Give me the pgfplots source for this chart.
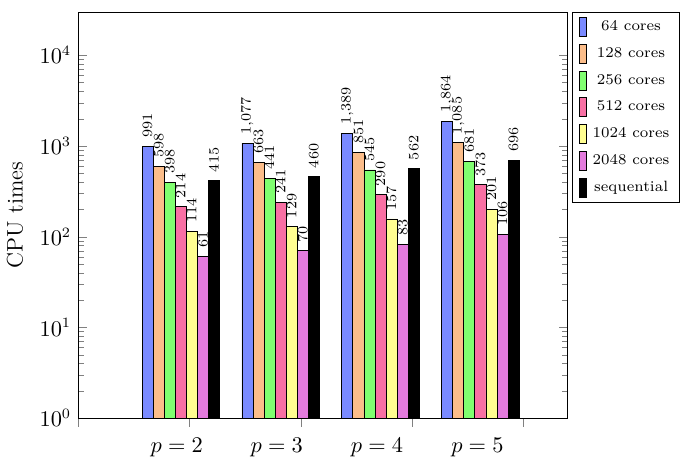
\documentclass[border={0pt 0pt 2.4pt 5.7pt}]{standalone}
\usepackage{pgfplots}
\pgfplotsset{compat=1.18}
\definecolor{c1}{RGB}{122,138,255}
\definecolor{c2}{RGB}{251,189,138}
\definecolor{c3}{RGB}{128,255,112}
\definecolor{c4}{RGB}{248,112,164}
\definecolor{c5}{RGB}{255,254,145}
\definecolor{c6}{RGB}{227,123,221}
\begin{document}
\begin{tikzpicture}
\begin{axis}[
 scale only axis, width=239.3pt, height=198.7pt,
 ymode=log, ymin=1, ymax=30000,
 xmin=-0.026, xmax=4.871,
 ybar=0pt, bar width=0.1108,
 xtick={-0.026,1.088,2.203,3.313,4.428}, xticklabels={},
 xtick pos=bottom, xtick align=outside,
 extra x ticks={0.96,1.96,2.965,3.97},
 extra x tick labels={$p=2$,$p=3$,$p=4$,$p=5$},
 extra x tick style={major tick length=0pt, xticklabel style={yshift=-6pt}},
 tick label style={font=\fontsize{10.5}{12}\selectfont},
 ylabel={CPU times},
 ylabel style={font=\fontsize{11}{13}\selectfont, yshift=1.2pt},
 nodes near coords, point meta=rawy,
 every node near coord/.append style={rotate=90, anchor=west, inner xsep=4pt, font=\fontsize{6.8}{8}\selectfont},
 legend style={at={(1.01,1)}, anchor=north west, font=\fontsize{7.3}{8.5}\selectfont, row sep=2.7pt, inner xsep=3pt,
   /tikz/every odd column/.append style={column sep=1pt}},
 legend cell align=center,
 legend image code/.code={\draw[#1] (0pt,-4.65pt) rectangle (3.4pt,4.65pt);},
]
\addplot[fill=c1, draw=black] coordinates {(1,991) (2,1077) (3,1389) (4,1864)};
\addplot[fill=c2, draw=black] coordinates {(1,598) (2,663) (3,851) (4,1085)};
\addplot[fill=c3, draw=black] coordinates {(1,398) (2,441) (3,545) (4,681)};
\addplot[fill=c4, draw=black] coordinates {(1,214) (2,241) (3,290) (4,373)};
\addplot[fill=c5, draw=black] coordinates {(1,114) (2,129) (3,157) (4,201)};
\addplot[fill=c6, draw=black] coordinates {(1,61) (2,70) (3,83) (4,106)};
\addplot[fill=black, draw=black] coordinates {(1,415) (2,460) (3,562) (4,696)};
\legend{64 cores,128 cores,256 cores,512 cores,1024 cores,2048 cores,sequential}
\end{axis}
\end{tikzpicture}
\end{document}
